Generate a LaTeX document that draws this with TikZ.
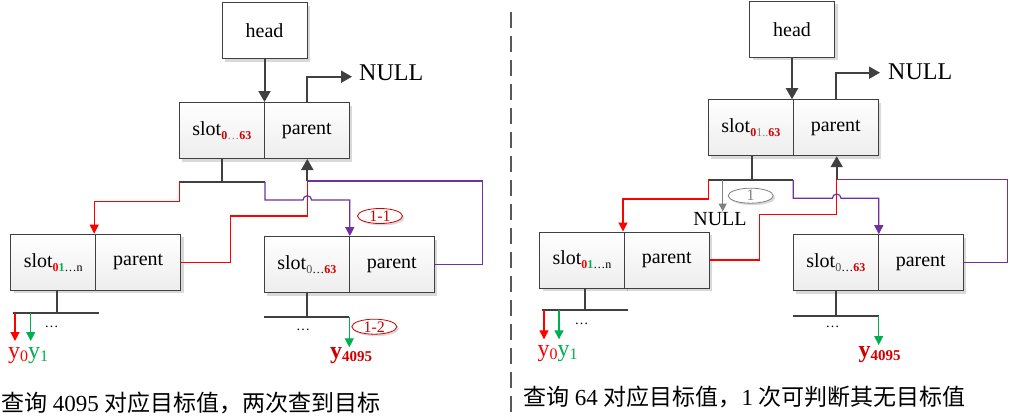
\documentclass[tikz,border=0pt]{standalone}
\usepackage{fontspec}
\setmainfont{Liberation Serif}
\newfontfamily\cjk{Noto Sans CJK SC}
\usetikzlibrary{arrows.meta,shadows,shapes.geometric}
\definecolor{linegray}{HTML}{404040}
\definecolor{rd}{HTML}{FF0000}
\definecolor{drd}{HTML}{D00000}
\definecolor{pur}{HTML}{7030A0}
\definecolor{grn}{HTML}{00B050}
\definecolor{nullgray}{HTML}{808080}
\newcommand{\lowsub}[1]{\raisebox{-4pt}{\fontsize{12}{12}\selectfont #1}}
\newcommand{\ysub}[1]{\raisebox{-3pt}{\fontsize{16}{16}\selectfont #1}}
\begin{document}
\begin{tikzpicture}[x=1pt,y=-1pt,
  cell/.style={draw=linegray, line width=1pt, top color=white, bottom color=black!7,
    minimum width=85pt, minimum height=56pt, inner sep=0pt, font=\fontsize{20}{22}\selectfont,
    drop shadow={shadow xshift=3pt,shadow yshift=-3pt,opacity=0.15,fill=black}},
  headbox/.style={draw=linegray, line width=1pt, fill=white,
    minimum width=85pt, minimum height=56pt, inner sep=0pt, font=\fontsize{20}{22}\selectfont,
    drop shadow={shadow xshift=3pt,shadow yshift=-3pt,opacity=0.15,fill=black}},
  bus/.style={line width=2.2pt, draw=linegray},
  thickarr/.style={line width=2pt, draw=linegray, -{Triangle[width=12pt,length=11pt]}},
  thin/.style={line width=1.2pt},
  rline/.style={thin, draw=rd},
  pline/.style={thin, draw=pur},
  rarr/.style={thin, draw=rd, -{Triangle[width=9pt,length=9pt]}},
  parr/.style={thin, draw=pur, -{Triangle[width=9pt,length=9pt]}},
  garr/.style={thin, draw=grn, -{Triangle[width=9pt,length=9pt]}},
  grayarr/.style={thin, draw=nullgray, -{Triangle[width=8pt,length=8pt]}},
  ovaltag/.style={ellipse, draw=drd, line width=0.8pt, fill=white, minimum width=45pt,
    minimum height=15pt, inner sep=0pt, text=drd, font=\fontsize{16}{16}\selectfont,
    drop shadow={shadow xshift=2pt,shadow yshift=-2pt,opacity=0.15,fill=black}},
  dotsnode/.style={inner sep=0pt, font=\fontsize{14}{14}\selectfont},
  bignull/.style={inner sep=0pt, font=\fontsize{24}{24}\selectfont},
  smallnull/.style={inner sep=0pt, font=\fontsize{20}{20}\selectfont},
  ylabel/.style={inner sep=0pt, anchor=base west},
  caption/.style={inner sep=0pt, anchor=west, font=\fontsize{23}{23}\selectfont}
]
\useasboundingbox (0,0) rectangle (1012,420);
\fill[white] (0,0) rectangle (1012,420);

% separator
\draw[line width=2pt, draw=black!65, dash pattern=on 16pt off 8pt] (510.7,11.7) -- (510.7,420);

% ================= LEFT =================
\node[headbox] (hL) at (264.5,31) {head};
\node[cell] (sL) at (221.8,130.5) {slot\lowsub{{\bfseries\color{drd}0}{\color{gray}\ldots}{\bfseries\color{drd}63}}};
\node[cell] (pL) at (306.8,130.5) {parent};
\draw[thickarr] (hL.south) -- (hL.south |- sL.north);
\node[bignull, anchor=west] (nL) at (359,73) {NULL};
\coordinate (nLa) at (352,76.7);
\draw[thickarr] (pL.north) |- (nLa);

\node[cell] (c1sL) at (53.2,262.2) {slot\lowsub{{\bfseries\color{rd}0}{\bfseries\color{grn}1}\ldots n}};
\node[cell] (c1pL) at (138.2,262.2) {parent};
\node[cell] (c2sL) at (306.8,264.6) {slot\lowsub{{\color{black!70}0}\ldots{\bfseries\color{drd}63}}};
\node[cell] (c2pL) at (391.8,264.6) {parent};

\coordinate (bL) at (222.3,182);
\coordinate (bLl) at (179.3,182);
\coordinate (bLr) at (265,182);
\draw[bus] (bL |- sL.south) -- (bL);
\draw[bus] (bLl) -- (bLr);

\coordinate (pLb) at (307.3,181);
\coordinate (pLr) at (482.7,181);
\coordinate (rLk) at (230.3,216);
\draw[rline] (c1pL.east) -| (rLk) -| (pLb);
\draw[pline] (c2pL.east) -| (pLr) -- (pLb);
\draw[thickarr] (pLb) -- (pLb |- pL.south);
\draw[rarr] (bLl) -- ++(0,19.7) -| ([xshift=-2pt]c1sL.north east);
\draw[parr] (bLr) |- (303,200) arc[start angle=180,end angle=0,radius=4.3pt] -| (c2sL.north east);

\node[ovaltag] (t11) at (380,216) {1-1};

% child1 bus
\coordinate (b1L) at (56.7,313);
\coordinate (b1Ll) at (12.7,313);
\coordinate (b1Lr) at (99,313);
\draw[bus] (b1L |- c1sL.south) -- (b1L);
\draw[bus] (b1Ll) -- (b1Lr);
\coordinate (y0La) at (15,341);
\coordinate (y1La) at (30.7,341);
\draw[rarr] (y0La |- b1L) -- (y0La);
\draw[garr] (y1La |- b1L) -- (y1La);
\node[dotsnode] (d1L) at (51.7,327) {\ldots};
\node[ylabel] (yL) at (8,358) {\fontsize{24}{24}\selectfont\color{rd}y\ysub{0}\color{grn}y\ysub{1}};

% child2 bus
\coordinate (b2L) at (307.3,317.3);
\coordinate (b2Ll) at (264,317.3);
\coordinate (b2Lr) at (349.3,317.3);
\draw[bus] (b2L |- c2sL.south) -- (b2L);
\draw[bus] (b2Ll) -- (b2Lr);
\coordinate (y4La) at (349.3,347.3);
\draw[garr] (b2Lr) -- (y4La);
\node[dotsnode] (d2L) at (303,330) {\ldots};
\node[ovaltag] (t12) at (374.3,326.7) {1-2};
\node[ylabel] (y4L) at (330,358) {\color{drd}\bfseries\fontsize{24}{24}\selectfont y\raisebox{-3pt}{\fontsize{15}{15}\selectfont 4095}};

\node[caption] (capL) at (1,403) {{\cjk 查询} 4095 {\cjk 对应目标值，两次查到目标}};

% ================= RIGHT =================
\node[headbox] (hR) at (792,29.2) {head};
\node[cell] (sR) at (750.8,127.7) {slot\lowsub{{\bfseries\color{drd}0}{\color{gray}1..}{\bfseries\color{drd}63}}};
\node[cell] (pR) at (835.8,127.7) {parent};
\draw[thickarr] (hR.south) -- (hR.south |- sR.north);
\node[bignull, anchor=west] (nR) at (888,71.5) {NULL};
\coordinate (nRa) at (880,72.7);
\draw[thickarr] (pR.north) |- (nRa);

\node[cell] (c1sR) at (582,260) {slot\lowsub{{\bfseries\color{rd}0}{\bfseries\color{grn}1}\ldots n}};
\node[cell] (c1pR) at (666.8,260) {parent};
\node[cell] (c2sR) at (835.8,262.7) {slot\lowsub{{\color{black!70}0}\ldots{\bfseries\color{drd}63}}};
\node[cell] (c2pR) at (920.8,262.7) {parent};

\coordinate (bR) at (751.7,180);
\coordinate (bRl) at (708.3,180);
\coordinate (bRr) at (793.3,180);
\draw[bus] (bR |- sR.south) -- (bR);
\draw[bus] (bRl) -- (bRr);

\coordinate (gR) at (722.7,211.5);
\draw[grayarr] (gR |- bR) -- (gR);
\node[smallnull] (n2R) at (720,218.8) {NULL};
\node[ovaltag, draw=nullgray, text=nullgray] (t1R) at (750.7,195.7) {1};

\coordinate (pRb) at (836.7,179.3);
\coordinate (pRr) at (1007.3,179.3);
\coordinate (rRk) at (759.3,214.3);
\draw[rline] (c1pR.east) -| (rRk) -| (pRb);
\draw[pline] (c2pR.east) -| (pRr) -- (pRb);
\draw[thickarr] (pRb) -- (pRb |- pR.south);
\draw[rarr] (bRl) -- ++(0,19) -| ([xshift=-2pt]c1sR.north east);
\draw[parr] (bRr) |- (832.4,198.3) arc[start angle=180,end angle=0,radius=4.3pt] -| (c2sR.north east);

% child1 bus right
\coordinate (b1R) at (585.3,310.3);
\coordinate (b1Rl) at (541.7,310.3);
\coordinate (b1Rr) at (628.3,310.3);
\draw[bus] (b1R |- c1sR.south) -- (b1R);
\draw[bus] (b1Rl) -- (b1Rr);
\coordinate (y0Ra) at (544,339.3);
\coordinate (y1Ra) at (559,339.3);
\draw[rarr] (y0Ra |- b1R) -- (y0Ra);
\draw[garr] (y1Ra |- b1R) -- (y1Ra);
\node[dotsnode] (d1R) at (581.7,324) {\ldots};
\node[ylabel] (yR) at (537.3,356) {\fontsize{24}{24}\selectfont\color{rd}y\ysub{0}\color{grn}y\ysub{1}};

% child2 bus right
\coordinate (b2R) at (836,315.7);
\coordinate (b2Rl) at (792.7,315.7);
\coordinate (b2Rr) at (878.7,315.7);
\draw[bus] (b2R |- c2sR.south) -- (b2R);
\draw[bus] (b2Rl) -- (b2Rr);
\coordinate (y4Ra) at (878.7,345);
\draw[garr] (b2Rr) -- (y4Ra);
\node[dotsnode] (d2R) at (832.7,327) {\ldots};
\node[ylabel] (y4R) at (858.3,357) {\color{drd}\bfseries\fontsize{24}{24}\selectfont y\raisebox{-3pt}{\fontsize{15}{15}\selectfont 4095}};

\node[caption] (capR) at (523,396.7) {{\cjk 查询} 64 {\cjk 对应目标值，}1 {\cjk 次可判断其无目标值}};
\end{tikzpicture}
\end{document}
